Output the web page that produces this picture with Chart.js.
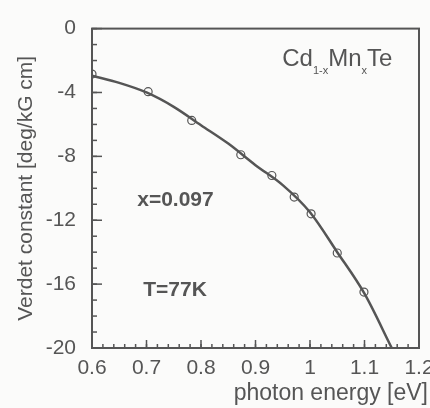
<!DOCTYPE html>
<html>
<head>
<meta charset="utf-8">
<script src="https://cdn.jsdelivr.net/npm/chart.js@4"></script>
<style>
html,body{margin:0;padding:0;background:#fbfbfa;}
#wrap{width:430px;height:408px;position:relative;}
</style>
</head>
<body>
<div id="wrap"><canvas id="myChart" width="430" height="408"></canvas></div>
<script>
// measured points (open circles)
ptX = [0.6, 0.703, 0.783, 0.873, 0.93, 0.971, 1.002, 1.05, 1.099]
ptY = [-2.85, -3.95, -5.75, -7.9, -9.2, -10.55, -11.6, -14.05, -16.5]
// theory curve
fitX = [0.6, 0.65, 0.7, 0.75, 0.8, 0.85, 0.9, 0.95, 1.0, 1.05, 1.1, 1.15]
fitY = [-2.95, -3.4, -4.0, -4.9, -6.05, -7.2, -8.55, -9.8, -11.5, -14.0, -16.6, -20]
// axis labels
xTicks = [0.6, 0.7, 0.8, 0.9, 1.0, 1.1, 1.2]
yTicks = [0, -4, -8, -12, -16, -20]
xTitle = 'photon energy [eV]'

ink = '#555'
fontName = '"Liberation Sans", Arial, sans-serif'

pts = []
for(i=0;i<ptX.length;i++){ pts.push({x:ptX[i], y:ptY[i]}) }
fit = []
for(i=0;i<fitX.length;i++){ fit.push({x:fitX[i], y:fitY[i]}) }

// inward ticks, frame and text labels
frameAndTicks = {
	id: 'frameAndTicks',
	afterDatasetsDraw(chart){
		ctx = chart.ctx
		a = chart.chartArea
		xs = chart.scales.x
		ys = chart.scales.y
		ctx.save()
		ctx.strokeStyle = ink
		ctx.lineWidth = 1.5
		// minor x every 0.02
		for(v=0.6;v<=1.2001;v+=0.02){
			px = xs.getPixelForValue(v)
			ctx.beginPath(); ctx.moveTo(px,a.bottom); ctx.lineTo(px,a.bottom-4); ctx.stroke()
		}
		for(i=0;i<xTicks.length;i++){
			px = xs.getPixelForValue(xTicks[i])
			ctx.beginPath(); ctx.moveTo(px,a.bottom); ctx.lineTo(px,a.bottom-8); ctx.stroke()
		}
		for(v=0;v>=-20;v-=1){
			py = ys.getPixelForValue(v)
			ctx.beginPath(); ctx.moveTo(a.left,py); ctx.lineTo(a.left+5,py); ctx.stroke()
		}
		for(i=0;i<yTicks.length;i++){
			py = ys.getPixelForValue(yTicks[i])
			ctx.beginPath(); ctx.moveTo(a.left,py); ctx.lineTo(a.left+10,py); ctx.stroke()
		}
		ctx.lineWidth = 2
		ctx.strokeRect(a.left, a.top, a.right-a.left, a.bottom-a.top)

		// annotations
		ctx.fillStyle = ink
		ctx.textBaseline = 'middle'
		ctx.textAlign = 'left'
		ctx.font = 'bold 21px ' + fontName
		ctx.fillText('x=0.097', xs.getPixelForValue(0.683), ys.getPixelForValue(-10.74))
		ctx.fillText('T=77K', xs.getPixelForValue(0.694), ys.getPixelForValue(-16.4))

		// x axis title, right edge a bit past the frame
		ctx.textAlign = 'right'
		ctx.font = '23px ' + fontName
		ctx.fillText(xTitle, a.right + 9, a.bottom + 46)
		ctx.textAlign = 'left'

		// Cd1-xMnxTe
		px = xs.getPixelForValue(0.949)
		py = ys.getPixelForValue(-1.9)
		parts = [['Cd',0],['1-x',1],['Mn',0],['x',1],['Te',0]]
		for(i=0;i<parts.length;i++){
			if(parts[i][1]){
				ctx.font = '11px ' + fontName
				ctx.fillText(parts[i][0], px, py+12)
			}else{
				ctx.font = '24px ' + fontName
				ctx.fillText(parts[i][0], px, py)
			}
			px += ctx.measureText(parts[i][0]).width
		}
		ctx.restore()
	}
}

canvas = document.getElementById('myChart')
const myNewChart = new Chart(canvas, {
	type: 'scatter',
	data: {
		datasets: [
			{
				label: 'theory',
				data: fit,
				showLine: true,
				borderColor: ink,
				borderWidth: 2.5,
				pointRadius: 0,
				cubicInterpolationMode: 'monotone'
			},
			{
				label: 'data',
				data: pts,
				pointStyle: 'circle',
				pointRadius: 4,
				pointBorderWidth: 1.2,
				pointBorderColor: '#555',
				pointBackgroundColor: 'rgba(255,255,255,0)'
			}
		]
	},
	options: {
		responsive: false,
		animation: false,
		layout: { padding: { top: 24, right: 11, left: 0, bottom: 0 } },
		plugins: {
			legend: { display: false },
			tooltip: { enabled: false }
		},
		scales: {
			x: {
				type: 'linear',
				min: 0.6,
				max: 1.2,
				afterBuildTicks: s => { s.ticks = xTicks.map(v => ({value: v})) },
				afterFit: s => { s.height = 60; s.paddingRight = 0; s.paddingLeft = 0 },
				grid: { display: false, drawTicks: false },
				border: { display: false },
				ticks: {
					padding: 8,
					color: ink,
					maxRotation: 0,
					font: { family: fontName, size: 21 },
					callback: v => String(+Number(v).toFixed(2))
				},
				title: { display: false }
			},
			y: {
				type: 'linear',
				min: -20,
				max: 0,
				afterBuildTicks: s => { s.ticks = yTicks.map(v => ({value: v})) },
				afterFit: s => { s.width = 92 },
				grid: { display: false, drawTicks: false },
				border: { display: false },
				ticks: {
					padding: 16,
					color: ink,
					font: { family: fontName, size: 21 },
					callback: v => String(v)
				},
				title: {
					display: true,
					text: 'Verdet constant [deg/kG cm]',
					color: ink,
					padding: { top: 14, bottom: 0 },
					font: { family: fontName, size: 21 }
				}
			}
		}
	},
	plugins: [frameAndTicks]
})
</script>
</body>
</html>
